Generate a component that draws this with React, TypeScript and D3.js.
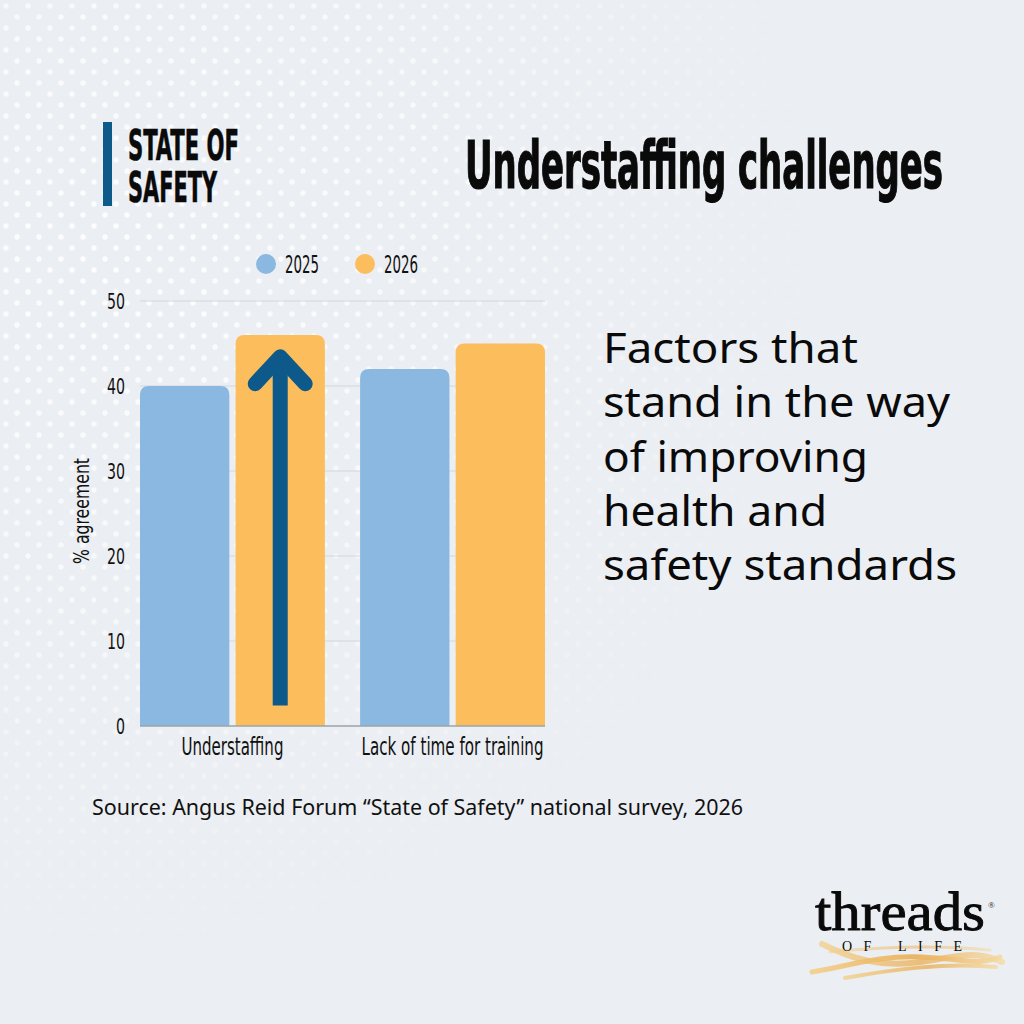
import * as d3 from "d3";

const categories = ["Understaffing", "Lack of time for training"];
const years = ["2025", "2026"];
const values2025 = [40, 42];
const values2026 = [46, 45];
const yTicks = [0, 10, 20, 30, 40, 50];
const blurbLines = [
  "Factors that",
  "stand in the way",
  "of improving",
  "health and",
  "safety standards",
];
const blurbWidths = [255, 347, 265, 224, 354];
const catLabelWidths = [102, 182];

const W = 1024;
const H = 1024;
const condensed = "'Liberation Sans Narrow', 'DejaVu Sans Condensed', Roboto, sans-serif";
const sans = "'Noto Sans', 'Open Sans', sans-serif";
const serif = "'Liberation Serif', 'DejaVu Serif', serif";

const blue = "#8ab8e0";
const orange = "#fcbe5c";
const navy = "#0d5a8a";

function topRounded(x: number, y: number, w: number, h: number, r: number) {
  return `M${x},${y + h}V${y + r}Q${x},${y} ${x + r},${y}H${x + w - r}Q${x + w},${y} ${x + w},${y + r}V${y + h}Z`;
}

export default function App() {
  const x0 = d3.scaleBand<string>().domain(categories).range([140, 545]).paddingInner(0.16).paddingOuter(0);
  const x1 = d3.scaleBand<string>().domain(years).range([0, x0.bandwidth()]).paddingInner(0.065);
  const y = d3.scaleLinear().domain([0, 50]).range([726, 301]);
  const color = d3.scaleOrdinal<string, string>().domain(years).range([blue, orange]);
  const series = [values2025, values2026];

  // arrow annotation on the 2026 understaffing bar
  const ax = (x0(categories[0]) ?? 0) + (x1("2026") ?? 0) + x1.bandwidth() / 2;
  const aTop = y(44.5);
  const aBot = y(2.4);

  return (
    <svg width={W} height={H} style={{ position: "absolute", left: 0, top: 0 }}>
      <defs>
        <pattern id="dots" width="22" height="22" patternUnits="userSpaceOnUse">
          <circle cx="6" cy="6" r="2.7" fill="#ffffff" />
          <circle cx="17" cy="17" r="2.7" fill="#ffffff" />
        </pattern>
        <radialGradient id="fade" cx="120" cy="250" r="720" gradientUnits="userSpaceOnUse">
          <stop offset="0%" stopColor="#fff" stopOpacity="1" />
          <stop offset="55%" stopColor="#fff" stopOpacity="0.6" />
          <stop offset="100%" stopColor="#fff" stopOpacity="0" />
        </radialGradient>
        <mask id="dotMask">
          <rect width={W} height={H} fill="url(#fade)" />
        </mask>
        <linearGradient id="swoosh" x1="0" x2="1" y1="0" y2="0">
          <stop offset="0%" stopColor="#f3cf8a" />
          <stop offset="55%" stopColor="#eaae55" />
          <stop offset="100%" stopColor="#f5d9a0" />
        </linearGradient>
      </defs>

      <rect width={W} height={H} fill="#ebeef2" />
      <rect width={W} height={H} fill="url(#dots)" mask="url(#dotMask)" opacity={0.9} />

      {/* header */}
      <rect x={103} y={122} width={9} height={84} fill={navy} />
      <text x={128} y={160} fontFamily={condensed} fontWeight="bold" fontSize={43} textLength={111} lengthAdjust="spacingAndGlyphs" fill="#0a0a0a" stroke="#0a0a0a" strokeWidth={0.6}>STATE OF</text>
      <text x={128} y={202} fontFamily={condensed} fontWeight="bold" fontSize={43} textLength={89} lengthAdjust="spacingAndGlyphs" fill="#0a0a0a" stroke="#0a0a0a" strokeWidth={0.6}>SAFETY</text>
      <text x={465} y={188} fontFamily={condensed} fontWeight="bold" fontSize={65} textLength={478} lengthAdjust="spacingAndGlyphs" fill="#0a0a0a" stroke="#0a0a0a" strokeWidth={1.2}>Understaffing challenges</text>

      {/* legend */}
      {years.map((yr, i) => (
        <g key={yr} transform={`translate(${266 + i * 99},264)`}>
          <circle r={10} fill={color(yr)} />
          <text x={19} y={9} fontFamily={condensed} fontSize={24} textLength={34} lengthAdjust="spacingAndGlyphs" fill="#111">{yr}</text>
        </g>
      ))}

      {/* grid + y ticks */}
      {yTicks.map((t) => (
        <g key={t}>
          {t > 0 && <line x1={140} x2={545} y1={y(t)} y2={y(t)} stroke="#d3d8de" strokeWidth={1.2} />}
          <text x={125} y={y(t)} dy="0.38em" textAnchor="end" fontFamily={condensed} fontSize={22} textLength={String(t).length * 9} lengthAdjust="spacingAndGlyphs" fill="#111">{t}</text>
        </g>
      ))}
      <text transform={`translate(89,511) rotate(-90)`} textAnchor="middle" fontFamily={condensed} fontSize={22} textLength={106} lengthAdjust="spacingAndGlyphs" fill="#111">% agreement</text>

      {/* bars */}
      {categories.map((c, ci) => (
        <g key={c} transform={`translate(${x0(c)},0)`}>
          {years.map((yr, si) => {
            const v = series[si][ci];
            return (
              <path key={yr} d={topRounded(x1(yr) ?? 0, y(v), x1.bandwidth(), y(0) - y(v), 9)} fill={color(yr)} />
            );
          })}
          <text x={x0.bandwidth() / 2} y={755} textAnchor="middle" fontFamily={condensed} fontSize={24} textLength={catLabelWidths[ci]} lengthAdjust="spacingAndGlyphs" fill="#111">{c}</text>
        </g>
      ))}
      <line x1={140} x2={545} y1={y(0)} y2={y(0)} stroke="#9ba4ad" strokeWidth={1.5} />

      {/* arrow */}
      <line x1={ax} x2={ax} y1={aBot} y2={aTop + 8} stroke={navy} strokeWidth={15} />
      <path d={`M${ax - 25},${aTop + 36}L${ax},${aTop + 9}L${ax + 25},${aTop + 36}`} fill="none" stroke={navy} strokeWidth={15} strokeLinecap="round" strokeLinejoin="round" />

      {/* blurb */}
      {blurbLines.map((l, i) => (
        <text key={l} x={603} y={363 + i * 54.3} fontFamily={sans} fontSize={42} textLength={blurbWidths[i]} lengthAdjust="spacingAndGlyphs" fill="#0a0a0a">{l}</text>
      ))}

      <text x={92} y={815} fontFamily={sans} fontSize={21} textLength={651} lengthAdjust="spacingAndGlyphs" fill="#111">Source: Angus Reid Forum “State of Safety” national survey, 2026</text>

      {/* logo */}
      <path d="M822,944 C850,958 880,968 920,962 S975,950 1002,962" fill="none" stroke="url(#swoosh)" strokeWidth={6} opacity={0.75} strokeLinecap="round" />
      <path d="M812,972 C848,966 880,955 922,957 S978,966 1000,957" fill="none" stroke="url(#swoosh)" strokeWidth={5} opacity={0.9} strokeLinecap="round" />
      <path d="M845,978 C890,970 945,962 996,967" fill="none" stroke="url(#swoosh)" strokeWidth={4} opacity={0.8} strokeLinecap="round" />
      <path d="M830,952 C870,948 930,944 990,950" fill="none" stroke="url(#swoosh)" strokeWidth={3} opacity={0.5} strokeLinecap="round" />
      <text x={815} y={930} fontFamily={serif} fontSize={54} textLength={170} lengthAdjust="spacingAndGlyphs" fill="#0a0a0a" stroke="#0a0a0a" strokeWidth={0.9}>threads</text>
      <text x={988} y={908} fontFamily={serif} fontSize={9} fill="#222">®</text>
      <text x={842} y={951} fontFamily={serif} fontSize={14} textLength={120} lengthAdjust="spacing" fill="#0a0a0a">OF LIFE</text>
    </svg>
  );
}
